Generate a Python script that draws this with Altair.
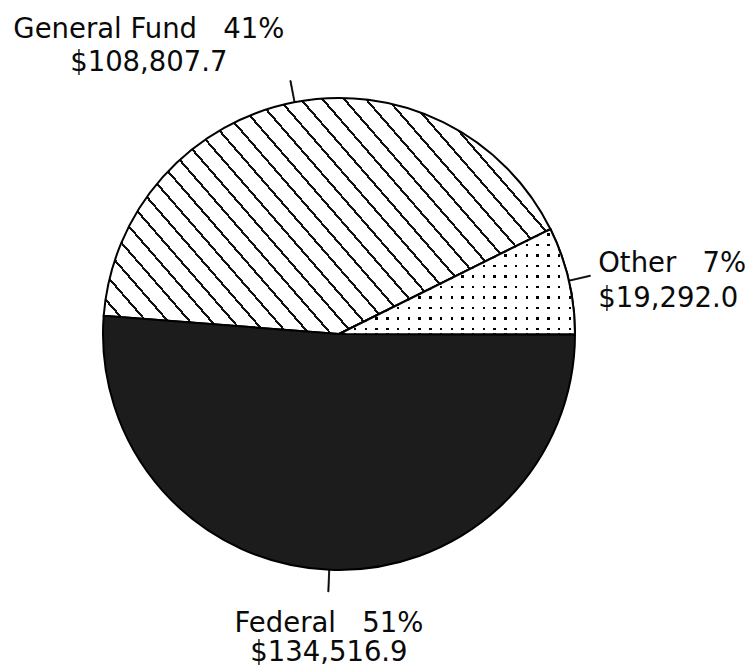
import math
import altair as alt
import pandas as pd

# ---- data ----
funds = ["Other", "Federal", "General Fund"]
amounts = [19292.0, 134516.9, 108807.7]
percents = ["7%", "51%", "41%"]
money = ["$19,292.0", "$134,516.9", "$108,807.7"]
order = [0, 1, 2]

SP = "\u00a0\u00a0\u00a0"
df = pd.DataFrame({
    "fund": funds,
    "amount": amounts,
    "order": order,
    "line1": [f"{f}{SP}{p}" for f, p in zip(funds, percents)],
    "line2": money,
})

# ---- layout ----
W, H = 678, 668
R = 236
TICK = 22
A0 = 63.6  # degrees, clockwise from 12 o'clock, where the first slice starts
total = sum(amounts)
theta_scale = alt.Scale(domain=[0, total],
                        range=[math.radians(A0), math.radians(A0) + 2 * math.pi])
eps = total * 0.25 / 360.0

# slice angles (for gradient geometry only)
angles = {}
acc = A0
for f, v in zip(funds, amounts):
    ext = v / total * 360.0
    angles[f] = (acc, acc + ext)
    acc += ext


def bbox(a0, a1):
    pts = [(0.0, 0.0)]
    steps = 400
    for i in range(steps + 1):
        a = math.radians(a0 + (a1 - a0) * i / steps)
        pts.append((R * math.sin(a), -R * math.cos(a)))
    xs = [p[0] for p in pts]
    ys = [p[1] for p in pts]
    return max(xs) - min(xs), max(ys) - min(ys)


def stripe_stops(n, frac, line_col, bg_col, phase=0.0):
    """Hard-edged repeating stripes: bg, then a line of width frac per period."""
    stops = [{"offset": 0, "color": bg_col}]
    for k in range(n):
        a = min((k + phase) / n, 1)
        b = min((k + phase + frac) / n, 1)
        stops += [
            {"offset": round(a, 5), "color": bg_col},
            {"offset": round(a, 5), "color": line_col},
            {"offset": round(b, 5), "color": line_col},
            {"offset": round(b, 5), "color": bg_col},
        ]
    stops.append({"offset": 1, "color": bg_col})
    return stops


# General Fund: diagonal "\" hatching (pixel direction (1, k), horizontal pitch P)
gw, gh = bbox(*angles["General Fund"])
k = 1.15
P = 22.0
s = (gw + gh / k) / (gw + gh * gh / (k * k * gw))
n_hatch = int(round((gw + gh / k) / P))
hatch = {
    "gradient": "linear",
    "x1": 0, "y1": 1, "x2": round(s, 4), "y2": round(1 - s * gh / (k * gw), 4),
    "stops": stripe_stops(n_hatch, 0.13, "#111111", "#ffffff", phase=0.4),
}

# Other: dot grid = horizontal dark lines masked by vertical white bands
ow, oh = bbox(*angles["Other"])
pitch = 10.5
n_h = max(1, int(round(oh / pitch)))
n_v = max(1, int(round(ow / pitch)))
dots_rows = {
    "gradient": "linear", "x1": 0, "y1": 0, "x2": 0, "y2": 1,
    "stops": stripe_stops(n_h, 2.4 / pitch, "#000000", "#ffffff", phase=0.4),
}
dots_mask = {
    "gradient": "linear", "x1": 0, "y1": 0, "x2": 1, "y2": 0,
    "stops": stripe_stops(n_v, 2.4 / pitch, "rgba(255,255,255,0)", "#ffffff", phase=0.4),
}

base = alt.Chart(df).transform_stack(
    stack="amount", groupby=[], as_=["v0", "v1"],
    sort=[alt.SortField("order", order="ascending")],
).transform_calculate(
    mid="(datum.v0 + datum.v1) / 2",
    mid2=f"(datum.v0 + datum.v1) / 2 + {eps}",
)

th = alt.Theta("v0:Q", scale=theta_scale, stack=None)


def slice_layer(name, fill, sw=2):
    return base.transform_filter(alt.datum.fund == name).mark_arc(
        radius=R, fill=fill, stroke="black", strokeWidth=sw
    ).encode(theta=th, theta2="v1:Q")


layers = [
    slice_layer("General Fund", hatch),
    slice_layer("Federal", "#1c1c1c"),
    slice_layer("Other", dots_rows),
    slice_layer("Other", dots_mask),
]

ticks = base.mark_arc(
    radius=R + TICK, radius2=R, fill="black", stroke="black", strokeWidth=0.8
).encode(theta=alt.Theta("mid:Q", scale=theta_scale, stack=None), theta2="mid2:Q")
layers.append(ticks)

# label placement relative to tick end: (dx, dy line1, dy line2, align)
label_pos = {
    "General Fund": (-141, -43, -10, "center"),
    "Federal": (0, 40, 69, "center"),
    "Other": (8, -3, 32, "left"),
}
for f in funds:
    dx, dy1, dy2, al = label_pos[f]
    for field, dy in (("line1", dy1), ("line2", dy2)):
        layers.append(
            base.transform_filter(alt.datum.fund == f).mark_text(
                radius=R + TICK, dx=dx, dy=dy, align=al, baseline="alphabetic",
                font="DejaVu Sans", fontSize=27.5, color="#0a0a0a",
            ).encode(
                theta=alt.Theta("mid:Q", scale=theta_scale, stack=None),
                text=f"{field}:N",
            )
        )

chart = alt.layer(*layers).properties(
    width=W, height=H,
    autosize=alt.AutoSizeParams(type="none"),
    padding={"left": 0, "top": 0, "right": 69, "bottom": 0},
    background="white",
).configure_view(stroke=None)

chart.save("out.html", embed_options={"renderer": "svg", "actions": False})
